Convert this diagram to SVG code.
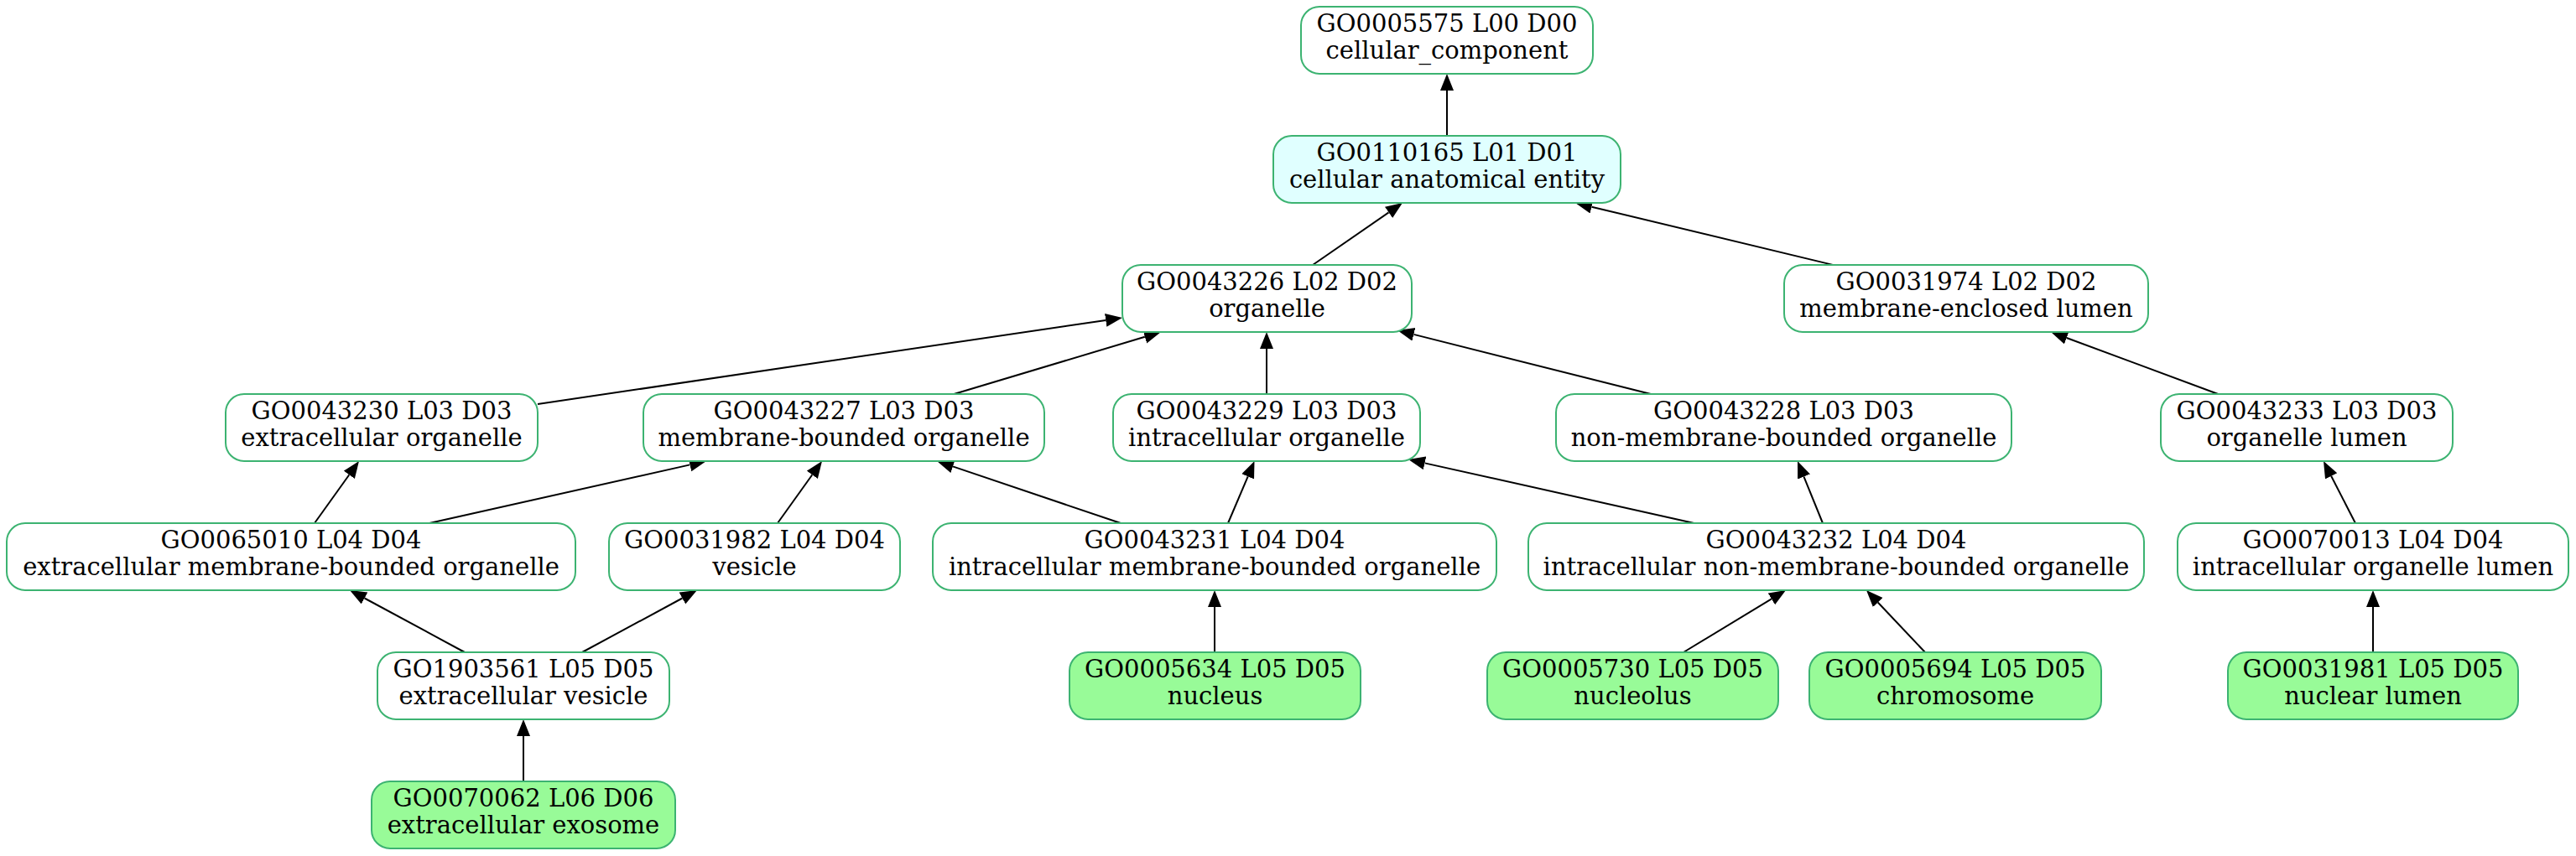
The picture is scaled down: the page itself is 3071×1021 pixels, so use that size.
<svg xmlns="http://www.w3.org/2000/svg" width="3071" height="1021" viewBox="0 0 3071 1021">
<style>
.n rect{fill:#ffffff;stroke:#3cb371;stroke-width:2}
.n.c rect{fill:#e0ffff}
.n.g rect{fill:#98fb98}
.n text{font-family:"DejaVu Serif",serif;font-size:29px;fill:#000;text-anchor:middle}
#edges line{stroke:#000;stroke-width:2;marker-end:url(#ah)}
</style>
<defs>
<marker id="ah" markerUnits="userSpaceOnUse" markerWidth="22" markerHeight="18" refX="0" refY="8" orient="auto" viewBox="0 0 22 18">
<path d="M0,0 L20,8 L0,16 z" fill="#000"/>
</marker>
</defs>
<rect width="3071" height="1021" fill="#fff"/>
<g id="edges">
<line x1="1725" y1="162" x2="1725" y2="108"/>
<line x1="1565" y1="316" x2="1655.55" y2="253.38"/>
<line x1="2188" y1="316.6" x2="1897.44" y2="246.68"/>
<line x1="641" y1="482" x2="1318.21" y2="381.92"/>
<line x1="1134" y1="471" x2="1364.84" y2="401.75"/>
<line x1="1510" y1="471" x2="1510" y2="416"/>
<line x1="1972" y1="471" x2="1685.40" y2="398.88"/>
<line x1="2647" y1="471" x2="2463.75" y2="402.96"/>
<line x1="375" y1="624" x2="416.35" y2="566.26"/>
<line x1="512" y1="624" x2="822.49" y2="554.38"/>
<line x1="927" y1="624" x2="968.35" y2="566.26"/>
<line x1="1336" y1="624" x2="1135.95" y2="556.40"/>
<line x1="1464" y1="624" x2="1487.67" y2="568.40"/>
<line x1="2019.5" y1="624" x2="1698.52" y2="552.36"/>
<line x1="2173" y1="624" x2="2150.51" y2="568.53"/>
<line x1="2808" y1="624" x2="2779.14" y2="567.79"/>
<line x1="554" y1="778" x2="434.60" y2="713.50"/>
<line x1="694" y1="778" x2="813.40" y2="713.50"/>
<line x1="1448" y1="778" x2="1448" y2="724"/>
<line x1="2007" y1="778" x2="2111.90" y2="714.37"/>
<line x1="2295" y1="778" x2="2238.74" y2="718.53"/>
<line x1="2829" y1="778" x2="2829" y2="724"/>
<line x1="624" y1="932" x2="624" y2="878"/>
</g>
<g id="GO0005575" class="n"><rect x="1551" y="8" width="348" height="80" rx="22"/><text x="1725" y="38">GO0005575 L00 D00</text><text x="1725" y="70">cellular_component</text></g>
<g id="GO0110165" class="n c"><rect x="1518" y="162" width="414" height="80" rx="22"/><text x="1725" y="192">GO0110165 L01 D01</text><text x="1725" y="224">cellular anatomical entity</text></g>
<g id="GO0043226" class="n"><rect x="1338" y="316" width="345" height="80" rx="22"/><text x="1510.5" y="346">GO0043226 L02 D02</text><text x="1510.5" y="378">organelle</text></g>
<g id="GO0031974" class="n"><rect x="2127" y="316" width="434" height="80" rx="22"/><text x="2344" y="346">GO0031974 L02 D02</text><text x="2344" y="378">membrane-enclosed lumen</text></g>
<g id="GO0043230" class="n"><rect x="269" y="470" width="372" height="80" rx="22"/><text x="455" y="500">GO0043230 L03 D03</text><text x="455" y="532">extracellular organelle</text></g>
<g id="GO0043227" class="n"><rect x="767" y="470" width="478" height="80" rx="22"/><text x="1006" y="500">GO0043227 L03 D03</text><text x="1006" y="532">membrane-bounded organelle</text></g>
<g id="GO0043229" class="n"><rect x="1327" y="470" width="366" height="80" rx="22"/><text x="1510" y="500">GO0043229 L03 D03</text><text x="1510" y="532">intracellular organelle</text></g>
<g id="GO0043228" class="n"><rect x="1855" y="470" width="543" height="80" rx="22"/><text x="2126.5" y="500">GO0043228 L03 D03</text><text x="2126.5" y="532">non-membrane-bounded organelle</text></g>
<g id="GO0043233" class="n"><rect x="2576" y="470" width="348" height="80" rx="22"/><text x="2750" y="500">GO0043233 L03 D03</text><text x="2750" y="532">organelle lumen</text></g>
<g id="GO0065010" class="n"><rect x="8" y="624" width="678" height="80" rx="22"/><text x="347" y="654">GO0065010 L04 D04</text><text x="347" y="686">extracellular membrane-bounded organelle</text></g>
<g id="GO0031982" class="n"><rect x="726" y="624" width="347" height="80" rx="22"/><text x="899.5" y="654">GO0031982 L04 D04</text><text x="899.5" y="686">vesicle</text></g>
<g id="GO0043231" class="n"><rect x="1112" y="624" width="672" height="80" rx="22"/><text x="1448" y="654">GO0043231 L04 D04</text><text x="1448" y="686">intracellular membrane-bounded organelle</text></g>
<g id="GO0043232" class="n"><rect x="1822" y="624" width="734" height="80" rx="22"/><text x="2189" y="654">GO0043232 L04 D04</text><text x="2189" y="686">intracellular non-membrane-bounded organelle</text></g>
<g id="GO0070013" class="n"><rect x="2596" y="624" width="466" height="80" rx="22"/><text x="2829" y="654">GO0070013 L04 D04</text><text x="2829" y="686">intracellular organelle lumen</text></g>
<g id="GO1903561" class="n"><rect x="450" y="778" width="348" height="80" rx="22"/><text x="624" y="808">GO1903561 L05 D05</text><text x="624" y="840">extracellular vesicle</text></g>
<g id="GO0005634" class="n g"><rect x="1275" y="778" width="347" height="80" rx="22"/><text x="1448.5" y="808">GO0005634 L05 D05</text><text x="1448.5" y="840">nucleus</text></g>
<g id="GO0005730" class="n g"><rect x="1773" y="778" width="347" height="80" rx="22"/><text x="1946.5" y="808">GO0005730 L05 D05</text><text x="1946.5" y="840">nucleolus</text></g>
<g id="GO0005694" class="n g"><rect x="2157" y="778" width="348" height="80" rx="22"/><text x="2331" y="808">GO0005694 L05 D05</text><text x="2331" y="840">chromosome</text></g>
<g id="GO0031981" class="n g"><rect x="2656" y="778" width="346" height="80" rx="22"/><text x="2829" y="808">GO0031981 L05 D05</text><text x="2829" y="840">nuclear lumen</text></g>
<g id="GO0070062" class="n g"><rect x="443" y="932" width="362" height="80" rx="22"/><text x="624" y="962">GO0070062 L06 D06</text><text x="624" y="994">extracellular exosome</text></g>
</svg>
